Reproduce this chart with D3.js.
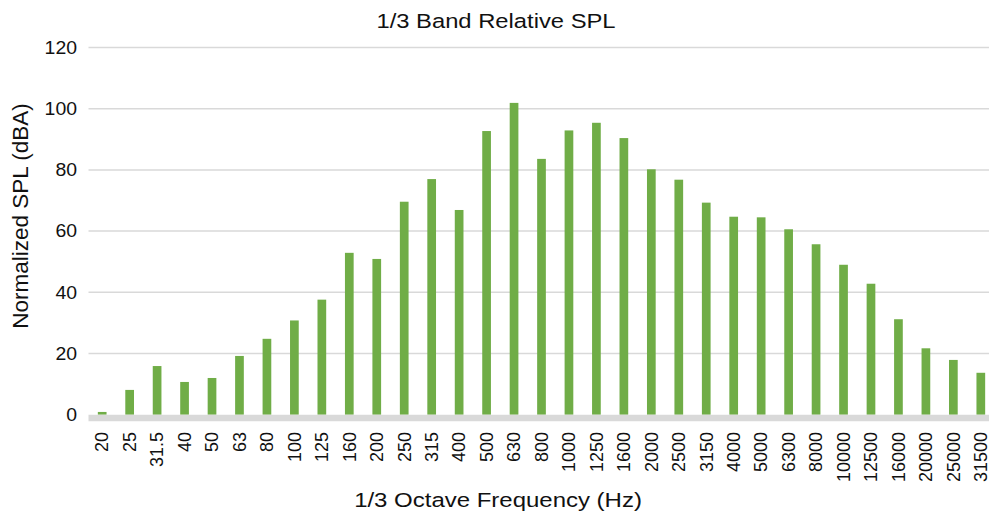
<html lang="en">
<head>
	<title>1/3 Band Relative SPL</title>
	<script src="https://d3js.org/d3.v7.min.js" charset="utf-8"></script>
	<style>
		body { margin: 0; background: #fff; }
		text { font-family: "Liberation Sans", Arial, sans-serif; fill: #111; }
	</style>
</head>
<body>
	<script>
	// 1/3 octave band centre frequencies (Hz)
	var bands = ["20", "25", "31.5", "40", "50", "63", "80", "100", "125", "160",
		"200", "250", "315", "400", "500", "630", "800", "1000", "1250", "1600",
		"2000", "2500", "3150", "4000", "5000", "6300", "8000", "10000", "12500",
		"16000", "20000", "25000", "31500"];
	// normalized SPL per band (dBA)
	var splValues = [0.9, 8.1, 15.9, 10.7, 12.0, 19.2, 24.8, 30.8, 37.6, 52.9,
		50.9, 69.6, 77.0, 66.9, 92.7, 101.9, 83.6, 92.9, 95.4, 90.4,
		80.2, 76.8, 69.3, 64.7, 64.5, 60.6, 55.7, 49.0, 42.8,
		31.2, 21.7, 17.9, 13.7];
	var yTicks = [0, 20, 40, 60, 80, 100, 120];

	var w = 989;
	var h = 516;
	// plot box (named so they don't clash with window.top)
	var plotL = 88.5, plotR = 994.5, plotT = 47.5, plotB = 414.7;

	var svg = d3.select("body")
		.append("svg")
		.attr("width", w)
		.attr("height", h);

	var x = d3.scaleBand()
		.domain(bands)
		.range([plotL, plotR])
		.paddingInner(0.683)
		.paddingOuter(0.34);

	var y = d3.scaleLinear()
		.domain([0, 120])
		.range([plotB, plotT]);

	// gridlines
	svg.append("g")
		.selectAll("line")
		.data(yTicks.filter(function(d){ return d > 0; }))
		.enter()
		.append("line")
		.attr("x1", plotL)
		.attr("x2", plotR)
		.attr("y1", function(d){ return y(d); })
		.attr("y2", function(d){ return y(d); })
		.attr("stroke", "#d9d9d9")
		.attr("stroke-width", 1.5);

	// bars
	svg.selectAll("rect.bar")
		.data(splValues)
		.enter()
		.append("rect")
		.attr("class", "bar")
		.attr("x", function(d, i){ return x(bands[i]); })
		.attr("y", function(d){ return y(d); })
		.attr("width", x.bandwidth())
		.attr("height", function(d){ return y(0) - y(d); })
		.attr("fill", "#70ad47");

	// thick zero axis line
	svg.append("line")
		.attr("x1", plotL)
		.attr("x2", plotR)
		.attr("y1", y(0) + 3.3)
		.attr("y2", y(0) + 3.3)
		.attr("stroke", "#d9d9d9")
		.attr("stroke-width", 6.6);

	// y axis labels
	var yAxis = d3.axisLeft(y).tickValues(yTicks).tickSize(0).tickPadding(0);
	var yg = svg.append("g")
		.attr("transform", "translate(77,0)")
		.call(yAxis);
	yg.attr("font-family", null).attr("font-size", null);
	yg.select(".domain").remove();
	yg.selectAll(".tick text")
		.style("font-size", "18px")
		.attr("fill", "#111")
		.attr("x", 0)
		.attr("transform", "scale(1.08,1)");

	// x axis labels, rotated
	var xAxis = d3.axisBottom(x).tickSize(0).tickPadding(0);
	var xg = svg.append("g")
		.attr("transform", "translate(0,432)")
		.call(xAxis);
	xg.attr("font-family", null).attr("font-size", null);
	xg.select(".domain").remove();
	xg.selectAll(".tick text")
		.style("font-size", "18px")
		.attr("fill", "#111")
		.attr("transform", "rotate(-90)")
		.attr("text-anchor", "end")
		.attr("x", 0)
		.attr("y", 0)
		.attr("dy", "0.35em");

	// title
	svg.append("text")
		.attr("transform", "translate(496,27.5) scale(1.16,1)")
		.attr("text-anchor", "middle")
		.style("font-size", "20.5px")
		.text("1/3 Band Relative SPL");

	// axis titles
	svg.append("text")
		.attr("transform", "translate(498,507) scale(1.17,1)")
		.attr("text-anchor", "middle")
		.style("font-size", "20.5px")
		.text("1/3 Octave Frequency (Hz)");

	svg.append("text")
		.attr("transform", "translate(28,216) rotate(-90)")
		.attr("text-anchor", "middle")
		.style("font-size", "22.5px")
		.text("Normalized SPL (dBA)");
	</script>
</body>
</html>
